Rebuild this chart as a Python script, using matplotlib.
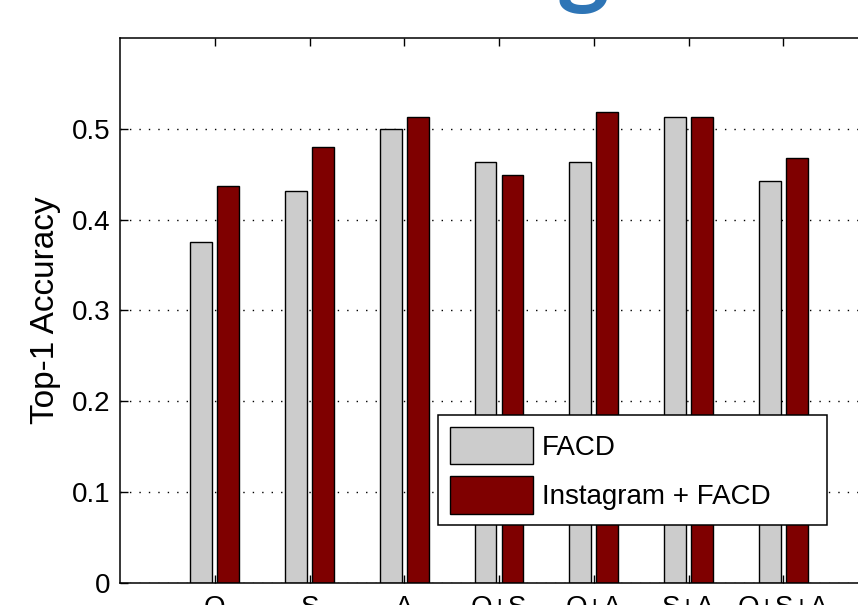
import matplotlib
matplotlib.use('Agg')
import matplotlib.pyplot as plt
import numpy as np

plt.rcParams['font.family'] = ['Liberation Sans', 'DejaVu Sans']

# feature combinations and top-1 accuracy per training set
combos = ['O', 'S', 'A', 'O+S', 'O+A', 'S+A', 'O+S+A']
facd = [0.375, 0.431, 0.500, 0.463, 0.463, 0.513, 0.443]
insta_facd = [0.437, 0.480, 0.513, 0.449, 0.519, 0.513, 0.468]
series_names = ['FACD', 'Instagram + FACD']

gray = '#cccccc'
dark_red = '#7f0000'

fig = plt.figure(figsize=(8.58, 6.05), dpi=100)
ax = fig.add_axes([0.1399, 0.0364, 0.8834, 0.9008])

x = np.arange(1, len(combos) + 1)
w = 0.229
off = 0.143
ax.bar(x - off, facd, w, color=gray, edgecolor='black', linewidth=1.0,
       label=series_names[0], zorder=2)
ax.bar(x + off, insta_facd, w, color=dark_red, edgecolor='black', linewidth=1.0,
       label=series_names[1], zorder=2)

ax.set_xlim(0, 8)
ax.set_ylim(0, 0.6)
ax.set_xticks(x)
ax.set_xticklabels(combos)
ax.set_yticks([0, 0.1, 0.2, 0.3, 0.4, 0.5])
ax.set_yticklabels(['0', '0.1', '0.2', '0.3', '0.4', '0.5'])

ax.tick_params(axis='both', direction='in', length=6, width=1.0,
               labelsize=20, top=True, right=True)
ax.tick_params(axis='x', pad=9)
ax.tick_params(axis='y', pad=7)
for s in ax.spines.values():
    s.set_linewidth(1.1)

# dotted horizontal grid only
ax.yaxis.grid(True, color='black', linewidth=1.0, linestyle=(0, (1, 5.8)), zorder=0)
ax.set_axisbelow(True)

ax.set_ylabel('Top-1 Accuracy', fontsize=24, labelpad=8)

leg = ax.legend(loc='lower left', bbox_to_anchor=(0.4195, 0.106, 0.513, 0.204),
                mode='expand', fontsize=20, handlelength=3.0, handleheight=1.7,
                handletextpad=0.32, labelspacing=0.42, borderpad=0.42,
                borderaxespad=0, fancybox=False, framealpha=1, edgecolor='black')
leg.get_frame().set_linewidth(1.1)

# bit of the slide heading above the figure
fig.text(0.679, 1.0066, 'g', fontsize=72, fontweight='bold', color='#2e75b6',
         family='Lato', ha='center', va='baseline')

fig.savefig('out.png', dpi=100)
